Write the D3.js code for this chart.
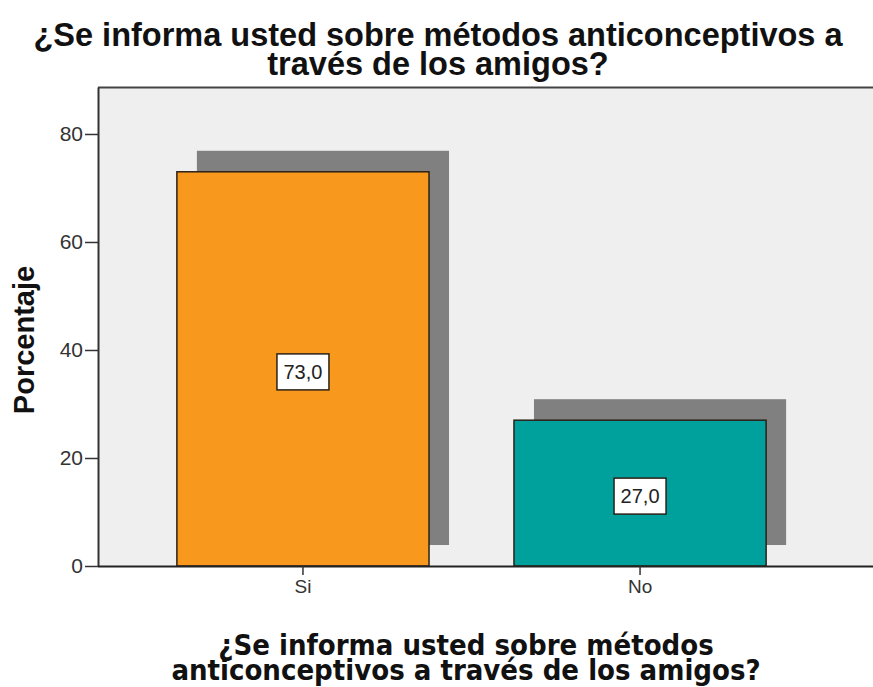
<!DOCTYPE html>
<html>
<head>
<meta charset="utf-8">
<script src="https://cdn.jsdelivr.net/npm/d3@7"></script>
<style>
  body { margin: 0; background: #fff; }
  svg { display: block; }
</style>
</head>
<body>
<svg class="chart" width="873" height="687"></svg>
<script>
// data
const categories = ['Si', 'No'];
const percentages = [73.0, 27.0];
const barColors = ['#F8981D', '#00A19D'];
const yTicks = [0, 20, 40, 60, 80];
const titleLines = ['¿Se informa usted sobre métodos anticonceptivos a', 'través de los amigos?'];
const xTitleLines = ['¿Se informa usted sobre métodos', 'anticonceptivos a través de los amigos?'];
const yTitle = 'Porcentaje';

const data = categories.map((c, i) => ({ cat: c, value: percentages[i], color: barColors[i] }));

const svg = d3.select('.chart');
const width = +svg.attr('width');
const height = +svg.attr('height');

const margin = { top: 87, right: -30, bottom: 121, left: 98 };
const innerWidth = width - margin.left - margin.right;
const innerHeight = height - margin.top - margin.bottom;

const yScale = d3.scaleLinear()
    .domain([0, 88.7])
    .range([innerHeight, 0]);

const xScale = d3.scaleBand()
    .domain(categories)
    .range([0, 747])
    .paddingInner(0.252)
    .paddingOuter(0.234);

// offset of the drop shadow behind each bar
const shadowDx = 20;
const shadowDy = -21;

const g = svg.append('g')
    .attr('transform', `translate(${margin.left}, ${margin.top})`);

// plot background
g.append('rect')
    .attr('x', 0)
    .attr('y', 0)
    .attr('width', innerWidth)
    .attr('height', innerHeight)
    .attr('fill', '#efefef');

g.append('line')
    .attr('x1', 0).attr('x2', innerWidth)
    .attr('y1', 0.5).attr('y2', 0.5)
    .attr('stroke', '#444')
    .attr('stroke-width', 2);

// shadows
g.append('g')
    .selectAll('rect')
    .data(data)
    .join('rect')
    .attr('x', d => xScale(d.cat) + shadowDx)
    .attr('y', d => yScale(d.value) + shadowDy)
    .attr('width', xScale.bandwidth())
    .attr('height', d => yScale(0) - yScale(d.value))
    .attr('fill', '#808080');

// bars
g.append('g')
    .selectAll('rect')
    .data(data)
    .join('rect')
    .attr('x', d => xScale(d.cat))
    .attr('y', d => yScale(d.value))
    .attr('width', xScale.bandwidth())
    .attr('height', d => yScale(0) - yScale(d.value))
    .attr('fill', d => d.color)
    .attr('stroke', '#2b2118')
    .attr('stroke-width', 1.5);

// value labels
const fmt = v => d3.format('.1f')(v).replace('.', ',');
const labels = g.append('g')
    .selectAll('g')
    .data(data)
    .join('g')
    .attr('transform', d => `translate(${xScale(d.cat) + xScale.bandwidth() / 2}, ${(yScale(d.value) + yScale(0)) / 2 + 3})`);

labels.append('rect')
    .attr('x', -26)
    .attr('y', -18)
    .attr('width', 52)
    .attr('height', 36)
    .attr('fill', '#fff')
    .attr('stroke', '#2b2118')
    .attr('stroke-width', 1.5);

labels.append('text')
    .attr('text-anchor', 'middle')
    .attr('dy', '0.36em')
    .style('font-family', 'Liberation Sans, Arial, sans-serif')
    .style('font-size', '20px')
    .attr('fill', '#222')
    .text(d => fmt(d.value));

// y axis
const yAxis = g.append('g')
    .call(d3.axisLeft(yScale)
        .tickValues(yTicks)
        .tickSize(13)
        .tickPadding(2)
        .tickSizeOuter(0));
yAxis.select('.domain').attr('stroke', '#333').attr('stroke-width', 2);
yAxis.selectAll('.tick line').attr('stroke', '#333').attr('stroke-width', 1.5);
yAxis.selectAll('.tick text')
    .style('font-family', 'Liberation Sans, Arial, sans-serif')
    .style('font-size', '21px')
    .attr('fill', '#333');

// x axis
const xAxis = g.append('g')
    .attr('transform', `translate(0, ${innerHeight})`)
    .call(d3.axisBottom(xScale)
        .tickSize(9)
        .tickPadding(5)
        .tickSizeOuter(0));
xAxis.select('.domain').attr('stroke', '#222').attr('stroke-width', 2)
    .attr('d', `M0,0.5H${innerWidth}`);
xAxis.selectAll('.tick line').attr('stroke', '#333').attr('stroke-width', 1.5);
xAxis.selectAll('.tick text')
    .style('font-family', 'Liberation Sans, Arial, sans-serif')
    .style('font-size', '19px')
    .attr('fill', '#333');

// title
svg.append('g')
    .selectAll('text')
    .data(titleLines)
    .join('text')
    .attr('x', 438)
    .attr('y', (d, i) => 46 + i * 29)
    .attr('text-anchor', 'middle')
    .style('font-family', 'Liberation Sans, Arial, sans-serif')
    .style('font-weight', 'bold')
    .style('font-size', '32.5px')
    .attr('fill', '#111')
    .text(d => d);

// x title
svg.append('g')
    .selectAll('text')
    .data(xTitleLines)
    .join('text')
    .attr('x', 466)
    .attr('y', (d, i) => 655 + i * 25)
    .attr('text-anchor', 'middle')
    .style('font-family', 'DejaVu Sans Condensed, DejaVu Sans, sans-serif')
    .style('font-stretch', 'condensed')
    .style('font-weight', 'bold')
    .style('font-size', '29px')
    .attr('fill', '#111')
    .text(d => d);

// y title
svg.append('text')
    .attr('transform', 'translate(34, 340) rotate(-90)')
    .attr('text-anchor', 'middle')
    .style('font-family', 'Liberation Sans, Arial, sans-serif')
    .style('font-weight', 'bold')
    .style('font-size', '29px')
    .attr('fill', '#111')
    .text(yTitle);
</script>
</body>
</html>
